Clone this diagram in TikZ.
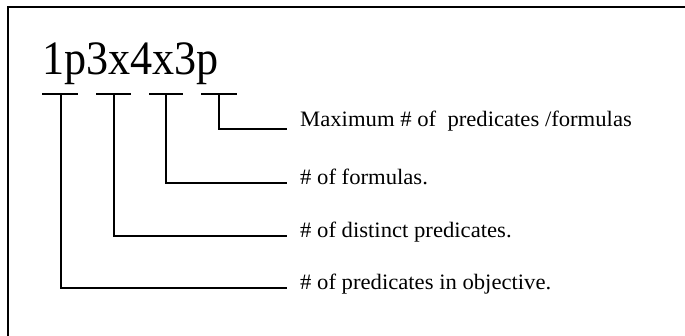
\documentclass[tikz,border=0pt]{standalone}
\usepackage{fontspec}
\setmainfont{Liberation Serif}
\begin{document}
\begin{tikzpicture}[x=1pt,y=-1pt,
  ln/.style={line width=1.2pt, black},
  lbl/.style={anchor=base west, inner sep=0pt, font=\fontsize{22}{25}\selectfont, xscale=1.03, transform shape},
  head/.style={anchor=base west, inner sep=0pt, font=\fontsize{48}{52}\selectfont, xscale=0.92, transform shape}]
\useasboundingbox (0,0) rectangle (685,336);
\clip (0,0) rectangle (685,336);
% frame
\draw[line width=1.8pt] (8,340) -- (8,7) -- (690,7);
% heading
\node[head] (H) at (42,75) {1p3x4x3p};
% underlines
\foreach \i/\a/\b/\m in {1/42/78/61, 2/96/131/114, 3/149/183/166, 4/201/237/219}{
  \coordinate (ua\i) at (\a,94);
  \coordinate (ub\i) at (\b,94);
  \coordinate (v\i) at (\m,94);
  \draw[ln] (ua\i) -- (ub\i);
}
% labels
\node[lbl] (L4) at (300,127) {Maximum \# of\ \ predicates /formulas};
\node[lbl] (L3) at (300,185) {\# of formulas.};
\node[lbl] (L2) at (300,238) {\# of distinct predicates.};
\node[lbl] (L1) at (300,290) {\# of predicates in objective.};
\coordinate (e4) at (287,129);
\coordinate (e3) at (287,183);
\coordinate (e2) at (287,236);
\coordinate (e1) at (287,288);
\foreach \i in {1,2,3,4}{
  \draw[ln] (v\i) |- (e\i);
}
\end{tikzpicture}
\end{document}
